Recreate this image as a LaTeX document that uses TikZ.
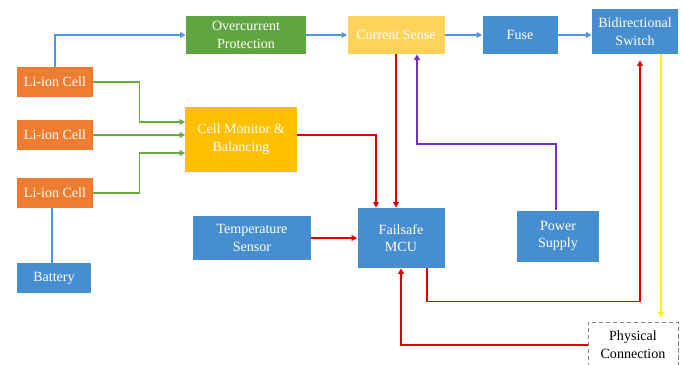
\documentclass[tikz,border=0pt]{standalone}
\usepackage{fontspec}
\setmainfont{Liberation Serif}
\usetikzlibrary{arrows.meta}
\definecolor{boxblue}{RGB}{70,142,208}
\definecolor{boxorange}{RGB}{237,125,49}
\definecolor{boxgreen}{RGB}{96,166,64}
\definecolor{boxamber}{RGB}{255,192,0}
\definecolor{boxsand}{RGB}{255,210,92}
\definecolor{lineblue}{RGB}{80,150,222}
\definecolor{linegreen}{RGB}{104,172,62}
\definecolor{linered}{RGB}{222,0,0}
\definecolor{linepurple}{RGB}{112,48,200}
\definecolor{lineyellow}{RGB}{255,245,0}
\begin{document}
\begin{tikzpicture}[x=0.25mm, y=-0.25mm]
                \useasboundingbox (0,0) rectangle (683,364);
                \tikzstyle{every node}=[rectangle, inner sep=1pt, align=center, text=white, font=\fontsize{10}{12.6}\selectfont]
                \tikzstyle{wire}=[line width=1.1pt, -{Triangle[length=4pt,width=4pt]}]

                \node[fill=boxgreen, minimum width=30mm, minimum height=9.5mm] (ocp) at (246,35) {Overcurrent\\Protection};
                \node[fill=boxsand, minimum width=24.25mm, minimum height=9.5mm] (cs) at (396,35) {Current Sense};
                \node[fill=boxblue, minimum width=18.75mm, minimum height=9.5mm] (fuse) at (520,35) {Fuse};
                \node[fill=boxblue, minimum width=21.5mm, minimum height=11.25mm] (bs) at (635,31.5) {Bidirectional\\Switch};

                \node[fill=boxorange, minimum width=19mm, minimum height=7.5mm] (cell1) at (55,82) {Li-ion Cell};
                \node[fill=boxorange, minimum width=19mm, minimum height=7.5mm] (cell2) at (55,135) {Li-ion Cell};
                \node[fill=boxorange, minimum width=19mm, minimum height=7.5mm] (cell3) at (55,193) {Li-ion Cell};
                \node[fill=boxblue, minimum width=18.25mm, minimum height=7.5mm] (bat) at (54,278) {Battery};

                \node[fill=boxamber, minimum width=27.75mm, minimum height=16.25mm] (cm) at (241,139) {Cell Monitor \&\\Balancing};
                \node[fill=boxblue, minimum width=29.5mm, minimum height=11mm] (ts) at (252,238) {Temperature\\Sensor};
                \node[fill=boxblue, minimum width=21.75mm, minimum height=15mm] (mcu) at (401,238) {Failsafe\\MCU};
                \node[fill=boxblue, minimum width=20.5mm, minimum height=12.75mm] (ps) at (558,236) {Power\\Supply};
                \node[fill=white, draw=gray, densely dashed, text=black, minimum width=22.5mm, minimum height=11.5mm] (pc) at (633,345) {Physical\\Connection};

                % power path
                \draw[wire, lineblue] (cell1.north) |- (ocp.west);
                \draw[wire, lineblue] (ocp.east) -- (cs.west);
                \draw[wire, lineblue] (cs.east) -- (fuse.west);
                \draw[wire, lineblue] (fuse.east) -- (fuse.east -| bs.west);
                \draw[lineblue, line width=1.1pt] ([xshift=-0.75mm]cell3.south) -- ([xshift=-0.75mm]cell3.south |- bat.north);

                % cell taps
                \draw[wire, linegreen] (cell1.east) -- ++(46,0) |- ([yshift=4.25mm]cm.west);
                \draw[wire, linegreen] (cell2.east) -- (cell2.east -| cm.west);
                \draw[wire, linegreen] (cell3.east) -- ++(46,0) |- ([yshift=-3.5mm]cm.west);

                % signals to the MCU
                \draw[wire, linered] ([yshift=1mm]cm.east) -| ([xshift=-6.25mm]mcu.north);
                \draw[wire, linered] (cs.south) -- (cs.south |- mcu.north);
                \draw[wire, linered] (ts.east) -- (mcu.west);
                \draw[wire, linered, shorten >=1.5mm] ([xshift=6.5mm]mcu.south) -- ++(0,33) -| ([xshift=1.25mm]bs.south);
                \draw[wire, linered] (pc.west) -| (mcu.south);

                \draw[wire, linepurple] ([xshift=-0.5mm]ps.north) -- ++(0,-66) -| ([xshift=5.25mm]cs.south);
                \draw[wire, lineyellow, shorten >=1mm] ([xshift=6.5mm]bs.south) -- ([xshift=6.5mm]bs.south |- pc.north);
\end{tikzpicture}
\end{document}
